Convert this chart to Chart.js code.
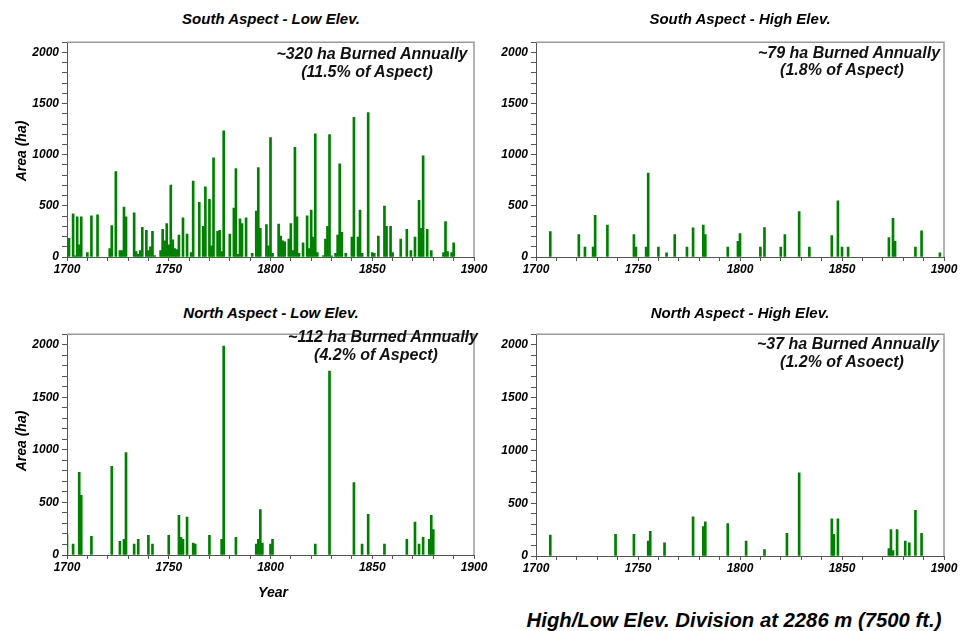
<!DOCTYPE html>
<html><head><meta charset="utf-8">
<script src="https://cdn.jsdelivr.net/npm/chart.js@4.4.1/dist/chart.umd.min.js"></script>
<style>
body{margin:0;background:#fff;width:961px;height:631px;overflow:hidden;position:relative;font-family:"Liberation Sans",Arial,sans-serif}
.t{position:absolute;font-weight:bold;font-style:italic;white-space:nowrap;transform:translate(-50%,-50%);color:#000;line-height:1}
.ttl{font-size:15px}
.ann{font-size:16px;color:#111}
.ax{font-size:14px}
.rot{transform:translate(-50%,-50%) rotate(-90deg)}
.foot{font-size:20.3px}
canvas{position:absolute}
</style></head><body>
<canvas id="c1"></canvas><canvas id="c2"></canvas><canvas id="c3"></canvas><canvas id="c4"></canvas>
<div class="t ttl" style="left:271px;top:18px">South Aspect - Low Elev.</div>
<div class="t ttl" style="left:740px;top:18px">South Aspect - High Elev.</div>
<div class="t ttl" style="left:271px;top:312px">North Aspect - Low Elev.</div>
<div class="t ttl" style="left:740px;top:312px">North Aspect - High Elev.</div>
<div class="t ann" style="left:372px;top:54px">~320 ha Burned Annually</div>
<div class="t ann" style="left:367px;top:72px">(11.5% of Aspect)</div>
<div class="t ann" style="left:849px;top:53px">~79 ha Burned Annually</div>
<div class="t ann" style="left:842px;top:70px">(1.8% of Aspect)</div>
<div class="t ann" style="left:383px;top:337px">~112 ha Burned Annually</div>
<div class="t ann" style="left:376px;top:355px">(4.2% of Aspect)</div>
<div class="t ann" style="left:848px;top:344px">~37 ha Burned Annually</div>
<div class="t ann" style="left:842px;top:362px">(1.2% of Asoect)</div>
<div class="t ax rot" style="left:21px;top:151px">Area (ha)</div>
<div class="t ax rot" style="left:21px;top:441px">Area (ha)</div>
<div class="t ax" style="left:273px;top:592px">Year</div>
<div class="t foot" style="left:734px;top:620px">High/Low Elev. Division at 2286 m (7500 ft.)</div>
<script>
// ---- tick labels ----
const xTickLabels = [1700, 1750, 1800, 1850, 1900];
const yTickLabels = [0, 500, 1000, 1500, 2000];

// ---- South Aspect - Low Elev. ----
const southLowYears = [1701,1703,1704,1705,1706,1707,1710,1712,1715,1721,1722,1724,1726,1727,1728,1729,1733,1734,1735,1736,1737,1739,1740,1741,1742,1743,1746,1747,1748,1749,1750,1751,1752,1753,1754,1755,1757,1759,1761,1762,1765,1767,1768,1770,1771,1772,1774,1775,1776,1777,1780,1782,1783,1784,1785,1786,1788,1791,1793,1794,1795,1798,1799,1800,
  1801,1804,1805,1806,1807,1809,1810,1811,1812,1813,1814,1816,1818,1819,1820,1821,1822,1823,1826,1827,1828,1829,1830,1832,1833,1834,1835,1837,1840,1841,1843,1844,1845,1848,1850,1851,1853,1856,1857,1859,1860,1864,1867,1869,1871,1873,1874,1875,1877,1879,1885,1886,1887,1889,1890];
const southLowArea = [182,421,12,393,120,393,44,402,412,82,308,836,63,63,487,393,431,53,25,63,289,261,63,100,252,15,63,270,157,327,120,704,167,82,72,214,384,223,44,742,535,299,686,563,110,969,252,261,53,1233,223,478,865,25,374,327,384,35,450,874,280,318,110,1167,
  35,321,204,157,148,176,327,63,1072,393,35,138,402,82,459,195,1205,44,15,176,299,1198,12,35,214,912,242,35,195,1365,195,459,35,1412,44,35,204,497,299,299,44,176,270,63,195,553,280,988,270,63,44,346,53,44,138];

// ---- South Aspect - High Elev. ----
const southHighYears = [1707,1721,1724,1728,1729,1735,1748,1749,1754,1755,1760,1764,1768,1774,1777,1782,1783,1794,1799,1800,1810,1812,1820,1822,1829,1834,1845,1848,1850,1853,1873,1875,1876,1886,1889,1898];
const southHighArea = [248,220,97,97,408,313,220,97,97,821,97,41,220,97,285,313,220,97,154,229,97,288,97,220,445,97,210,549,97,97,191,379,154,97,257,41];

// ---- North Aspect - Low Elev. ----
const northLowYears = [1700,1703,1706,1707,1712,1722,1726,1728,1729,1733,1735,1740,1742,1750,1755,1756,1757,1759,1762,1763,1770,1776,1777,1783,1793,1794,1795,1796,1800,1801,1822,1829,1841,1845,1848,1856,1867,1871,1873,1875,1878,1879,1880];
const northLowArea = [195,104,786,567,177,844,131,149,973,104,149,186,104,186,378,168,149,360,113,104,186,149,1988,168,104,149,433,113,104,149,104,1750,689,104,387,104,150,314,104,168,150,378,241];

// ---- North Aspect - High Elev. ----
const northHighYears = [1707,1739,1748,1755,1756,1763,1777,1782,1783,1794,1803,1812,1823,1829,1845,1846,1848,1873,1874,1875,1877,1881,1883,1886,1889];
const northHighArea = [197,206,206,142,233,124,370,279,324,306,142,61,215,788,351,206,351,70,251,52,251,142,124,433,215];

const framePlugin = {
  id: 'frame',
  afterDraw(chart) {
    const a = chart.chartArea, ctx = chart.ctx;
    ctx.save();
    ctx.strokeStyle = '#9a9a9a';
    ctx.lineWidth = 1.5;
    ctx.beginPath();
    ctx.moveTo(a.left, a.top);
    ctx.lineTo(a.right, a.top);
    ctx.lineTo(a.right, a.bottom);
    ctx.stroke();
    ctx.restore();
  }
};

const tickFont = {family: '"Liberation Sans", Arial, sans-serif', size: 12, weight: 'bold', style: 'italic'};

function makeChart(id, years, area, plot) {
  const YW = 50, XH = 30, PT = 2, PR = 18;
  const canvas = document.getElementById(id);
  canvas.width = YW + plot.w + PR;
  canvas.height = PT + plot.h + XH;
  canvas.style.left = (plot.x - YW) + 'px';
  canvas.style.top = (plot.y - PT) + 'px';
  const pts = years.map((yr, i) => ({x: yr, y: area[i]}));
  new Chart(canvas, {
    type: 'bar',
    data: {datasets: [{data: pts, backgroundColor: '#008000', borderWidth: 0, barThickness: 2}]},
    options: {
      responsive: false, animation: false,
      layout: {padding: {top: PT, right: PR, left: 0, bottom: 0}},
      plugins: {legend: {display: false}, tooltip: {enabled: false}},
      scales: {
        x: {
          type: 'linear', min: 1700, max: 1900, offset: false,
          afterFit: s => { s.height = XH; },
          ticks: {stepSize: 10, maxTicksLimit: 100, autoSkip: false, maxRotation: 0, minRotation: 0,
                  padding: 1, color: '#000', font: tickFont,
                  callback: v => xTickLabels.includes(v) ? String(v) : ''},
          grid: {drawOnChartArea: false, offset: false, tickLength: 4, color: '#555'},
          border: {color: '#555', width: 1}
        },
        y: {
          min: 0, max: 2100,
          afterFit: s => { s.width = YW; },
          ticks: {stepSize: 100, maxTicksLimit: 100, autoSkip: false, padding: 3, color: '#000', font: tickFont,
                  callback: v => yTickLabels.includes(v) ? String(v) : ''},
          grid: {drawOnChartArea: false, tickLength: 5, color: '#555'},
          border: {color: '#555', width: 1}
        }
      }
    },
    plugins: [framePlugin]
  });
}

makeChart('c1', southLowYears, southLowArea, {x: 67, y: 34, w: 407, h: 223});
makeChart('c2', southHighYears, southHighArea, {x: 536, y: 34, w: 408, h: 223});
makeChart('c3', northLowYears, northLowArea, {x: 67, y: 326, w: 407, h: 229});
makeChart('c4', northHighYears, northHighArea, {x: 536, y: 326, w: 408, h: 230});
</script>
</body></html>
